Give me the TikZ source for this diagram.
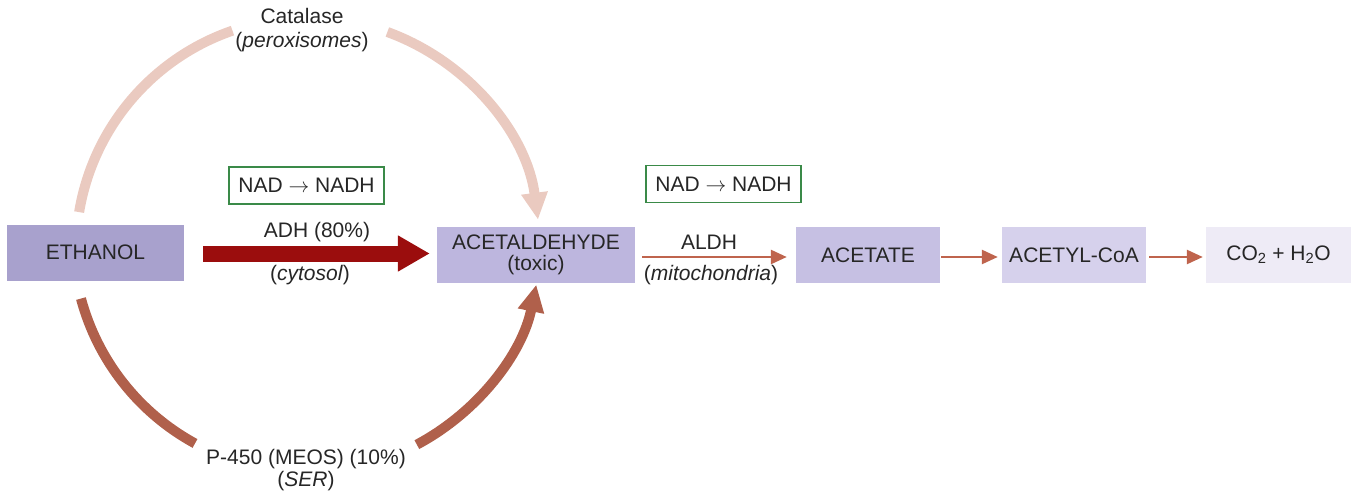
\documentclass[tikz,border=0pt]{standalone}
\usepackage{fontspec}
\setmainfont{Liberation Sans}
\usetikzlibrary{arrows.meta}
\definecolor{boxA}{HTML}{A8A1CD}
\definecolor{boxB}{HTML}{BDB6DE}
\definecolor{boxC}{HTML}{C6C0E3}
\definecolor{boxD}{HTML}{D6D1EC}
\definecolor{boxE}{HTML}{EEEBF6}
\definecolor{catc}{HTML}{EACAC0}
\definecolor{p450c}{HTML}{B0604B}
\definecolor{adhc}{HTML}{9B0D0D}
\definecolor{aldhc}{HTML}{BF644D}
\definecolor{nadc}{HTML}{3A8A48}
\definecolor{txt}{HTML}{262626}
\begin{document}
\begin{tikzpicture}[x=1pt,y=-1pt,
  every node/.style={font=\fontsize{21}{24}\selectfont, text=txt, inner sep=0pt},
  met/.style={minimum height=56pt, align=center},
  nadbox/.style={draw=nadc, line width=1.2pt, fill=white, minimum width=155pt, minimum height=37pt},
  lbl/.style={align=center},
  catarc/.style={draw=catc, line width=10pt},
  p450arc/.style={draw=p450c, line width=10pt},
  smallarr/.style={draw=aldhc, line width=2.6pt, -{Triangle[length=16pt,width=14pt]}}
]
\useasboundingbox (0,0) rectangle (1351,497);

% metabolite boxes
\node[met, fill=boxA, minimum width=177pt] (eth) at (95.5,252.5) {ETHANOL};
\node[met, fill=boxB, minimum width=198pt] (ald) at (536,255) {ACETALDEHYDE\\[-3pt](toxic)};
\node[met, fill=boxC, minimum width=144pt] (ace) at (868,255) {ACETATE};
\node[met, fill=boxD, minimum width=144pt] (acoa) at (1074,255) {ACETYL-CoA};
\node[met, fill=boxE, minimum width=145pt] (co2) at (1278.5,255) {CO\textsubscript{2} + H\textsubscript{2}O};

% NAD boxes
\node[nadbox] (nad1) at (306.5,185.5) {NAD $\rightarrow$ NADH};
\node[nadbox] (nad2) at (723.5,184) {NAD $\rightarrow$ NADH};

% labels
\node[lbl] (cat) at (302,30) {Catalase\\[0pt](\textit{peroxisomes})};
\node[lbl] (adh) at (317,232) {ADH (80\%)};
\node[lbl] (cyt) at (310,275) {(\textit{cytosol})};
\node[lbl] (aldh) at (709,242) {ALDH};
\node[lbl] (mito) at (711,275) {(\textit{mitochondria})};
\node[lbl] (p450) at (306,470) {P-450 (MEOS) (10\%)\\[-2pt](\textit{SER})};

% ADH arrow
\draw[draw=adhc, line width=16pt, -{Triangle[length=32pt,width=34pt]}]
  ([xshift=19pt,yshift=-1pt]eth.east) -- ([xshift=-7pt,yshift=1.5pt]ald.west);

% ALDH and downstream arrows
\draw[smallarr] ([xshift=7pt,yshift=-2pt]ald.east) -- ([xshift=-9pt,yshift=-2pt]ace.west);
\draw[smallarr] ([xshift=1pt,yshift=-2pt]ace.east) -- ([xshift=-4pt,yshift=-2pt]acoa.west);
\draw[smallarr] ([xshift=3pt,yshift=-2pt]acoa.east) -- ([xshift=-3pt,yshift=-2pt]co2.west);

% catalase arc
\coordinate (c1) at (308,250);
\draw[catarc] (c1) ++(189.4:232) coordinate (cats) arc[start angle=189.4, end angle=251, radius=232];
\draw[catarc, -{Triangle[length=27pt,width=25pt]}] (c1) ++(290:232) arc[start angle=290, end angle=352.5, radius=232];

% P-450 arc
\coordinate (c2) at (307,238);
\draw[p450arc] (c2) ++(165:234) arc[start angle=165, end angle=118.6, radius=234];
\draw[p450arc, -{Triangle[length=27pt,width=25pt]}] (c2) ++(62:234) arc[start angle=62, end angle=11.5, radius=234];
\end{tikzpicture}
\end{document}
